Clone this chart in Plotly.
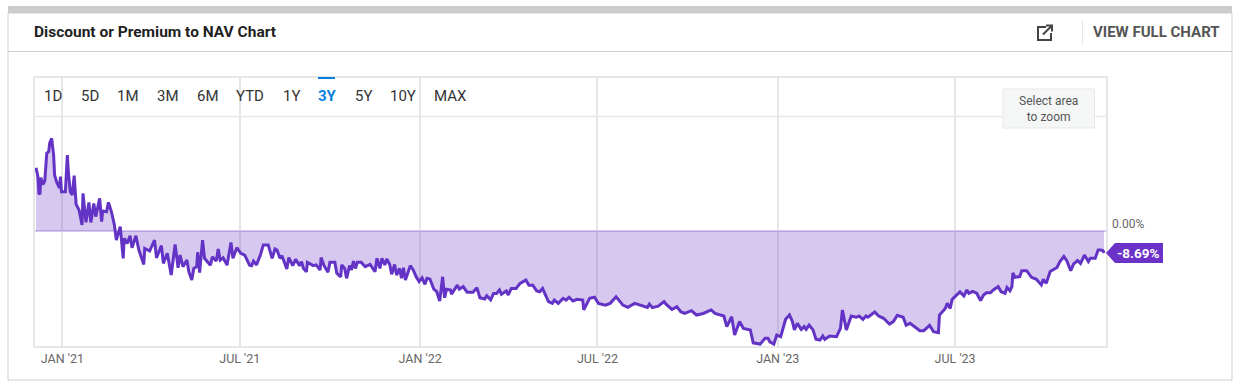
import pandas as pd
import plotly.graph_objects as go

W, H = 1240, 390
PL, PR, PT, PB = 35, 1106, 78, 346

title = "Discount or Premium to NAV Chart"
start_date = "2020-12-04"
end_day = 1093
tick_dates = ["2021-01-01", "2021-07-01", "2022-01-01", "2022-07-01", "2023-01-01", "2023-07-01"]
tick_labels = ["JAN '21", "JUL '21", "JAN '22", "JUL '22", "JAN '23", "JUL '23"]
tab_labels = ["1D", "5D", "1M", "3M", "6M", "YTD", "1Y", "3Y", "5Y", "10Y", "MAX"]
tab_centers = [53, 90, 128, 168, 208, 250, 291, 327, 363, 403, 450]
active_tab = "3Y"
last_label = "-8.69%"

days = [
    1, 3, 4, 5, 6, 8, 10, 12, 14, 15, 17, 19, 20, 22, 25, 26, 27, 31, 33, 34, 36, 38, 40, 42, 45, 48, 49, 52, 55, 57,
    60, 62, 66, 68, 69, 73, 75, 78, 81, 83, 87, 90, 91, 94, 97, 99, 103, 106, 111, 112, 117, 122, 124, 129, 131, 135,
    139, 143, 146, 148, 151, 155, 157, 160, 162, 165, 166, 168, 171, 173, 179, 181, 185, 187, 189, 192, 196, 200, 202,
    206, 210, 214, 219,
    221, 223, 226, 230, 233, 238, 242, 245, 247, 250, 252, 257, 259, 263, 266, 270, 272, 274, 277, 278, 284, 287, 291,
    292, 295, 299, 301, 306, 308, 312, 313, 316, 318, 321, 323, 325, 327, 329, 333, 337, 342, 347, 349, 352, 354, 357,
    359, 362, 364, 367, 369, 372, 374, 376, 378, 383, 386, 389, 392, 395, 398, 400, 403, 407, 410, 413, 416, 418, 420,
    424, 425, 431, 433, 437, 441, 447, 451, 454, 459, 461, 465, 468, 471, 474, 476, 481, 483, 486, 491, 495, 501, 504,
    508, 512, 515,
    518, 521, 524, 528, 530, 534, 539, 542, 545, 549, 553, 559, 560, 566, 571, 575, 582, 587, 593, 600, 605, 612, 619,
    625, 627, 630, 636, 642, 644, 650, 655, 659, 663, 670, 675, 682, 690, 694, 703, 706, 711, 714, 719, 723, 730, 733,
    740, 745, 748, 750, 754, 757, 761, 766, 770, 773, 775, 778, 782, 785, 787, 790, 794, 797, 801,
    804, 806, 811, 818, 822, 824, 828, 833, 838, 841, 845, 848, 850, 857, 861, 866, 872, 876, 880, 886, 889, 893, 903,
    907, 913, 917, 922, 923, 929, 931, 934, 936, 940, 944, 948, 951, 953, 957, 961, 965, 968, 971, 975, 978, 983, 986,
    990, 992, 995, 997, 998, 1000, 1005, 1007, 1012, 1017, 1022, 1027, 1029, 1032, 1036, 1039, 1043, 1046, 1050, 1053,
    1057, 1060, 1064, 1067, 1071, 1075, 1077, 1082, 1085, 1088, 1090, 1091,
]
values = [
    25.0, 21.5, 14.9, 14.5, 21.1, 18.4, 19.8, 30.7, 31.4, 34.7, 36.6, 30.0, 22.1, 19.5, 16.9, 21.5, 15.5, 15.5, 30.0, 23.5,
    15.5, 14.2, 21.9, 10.5, 8.3, 2.4, 14.9, 3.4, 11.3, 3.4,
    10.9, 5.7, 12.9, 3.7, 7.9, 7.6, 11.3, 7.6, 2.4, -3.6, 1.7, -10.8, -2.9, -4.9, -1.9, -6.6, -1.9, -7.5, -13.2, -6.9,
    -7.9, -3.6, -10.6, -5.8, -12.8, -8.8,
    -17.4, -5.3, -14.5, -9.5, -14.1, -11.5, -16.1, -19.4, -14.8, -14.1, -8.4, -16.4, -3.6, -10.8, -13.5, -10.2, -11.9,
    -7.1, -11.5, -10.6, -13.5, -4.5, -10.8,
    -6.6, -8.8, -9.5, -13.5,
    -13.7, -11.9, -13.4, -9.5, -5.5, -5.5, -10.8, -7.1, -7.5, -10.8, -9.8, -15.0, -10.5, -13.7, -11.2, -13.7, -12.1, -14.8,
    -16.1, -12.4, -13.7, -13.4, -15.4,
    -10.5, -13.7, -16.3, -12.4, -12.4, -16.7, -18.1, -13.4, -14.8, -18.7, -13.7, -15.4, -11.9, -14.8, -12.4, -12.4, -14.1,
    -13.2, -16.1, -10.8, -14.8, -10.8, -13.4,
    -11.1, -13.2, -17.1, -13.2, -17.4, -14.8, -18.7, -14.5, -19.4, -13.7, -15.4, -18.1, -20.0, -18.5, -21.1, -18.7, -19.0,
    -23.0, -24.0, -27.7, -18.1, -26.4, -23.0,
    -23.3, -25.0, -21.4, -23.0, -22.0, -24.2, -24.2, -22.4, -26.4, -26.9, -25.6, -27.2, -24.7, -24.7, -23.3, -25.0, -23.7,
    -25.3, -22.7, -22.7, -20.7, -19.4, -21.4,
    -21.4, -23.7, -24.0,
    -22.7, -25.3, -27.9, -28.6, -27.3, -28.6, -26.6, -27.3, -26.2, -27.7, -27.0, -27.3, -31.2, -26.6, -26.2, -28.6, -29.3,
    -28.6, -26.0, -29.3, -30.2, -28.6, -29.3,
    -30.2, -28.9, -30.3, -29.7, -27.9, -28.9, -31.0, -29.9, -31.9, -32.6, -31.5, -33.2, -32.6, -31.2, -32.6, -33.6, -37.8,
    -33.9, -41.1, -35.8, -38.5, -39.1, -44.2,
    -44.7, -42.4, -42.4, -43.8, -44.7, -41.1, -41.8, -34.9, -33.2, -35.8, -39.1, -36.5, -38.9, -37.8, -38.9, -37.2, -39.1,
    -42.8, -43.1,
    -41.5, -42.8, -41.5, -41.8, -38.5, -31.2, -39.1, -33.6, -34.1, -33.6, -34.9, -33.6, -34.1, -32.0, -33.6, -34.5, -36.8,
    -35.8, -33.3, -34.1, -37.2, -36.5, -39.4,
    -39.4, -37.3, -39.8, -40.2, -33.2, -30.6, -28.6, -30.6, -27.0, -25.7, -24.1, -25.7, -23.3, -24.6, -23.9, -24.6, -27.5,
    -25.3, -24.4, -24.4, -23.3, -22.0, -24.0,
    -24.6, -22.3, -23.6, -22.0, -16.5, -18.3, -18.0, -15.7, -15.7, -18.3, -19.1, -21.3, -19.1, -20.7, -16.0, -15.2, -14.4,
    -12.1, -10.1, -11.7,
    -15.7, -13.0, -11.7, -12.8, -9.5, -12.1, -10.8, -10.8, -7.5, -7.5, -7.8, -8.69,
]
assert len(days) == len(values), (len(days), len(values))

t0 = pd.Timestamp(start_date)
dates = [t0 + pd.Timedelta(days=d) for d in days]
x_range = [t0, t0 + pd.Timedelta(days=end_day)]
PX_PER_PCT = 2.53
y_range = [-(PB - 231) / PX_PER_PCT, (231 - PT) / PX_PER_PCT]


def px(x):
    return (x - PL) / (PR - PL)


def py(y):
    return (PB - y) / (PB - PT)


def rect(x0, y0, x1, y1, fill=None, line=None, lw=1):
    return dict(type="rect", xref="paper", yref="paper", x0=px(x0), x1=px(x1), y0=py(y0), y1=py(y1),
                fillcolor=fill or "rgba(0,0,0,0)", line=dict(color=line or "rgba(0,0,0,0)", width=lw if line else 0))


def seg(x0, y0, x1, y1, color, lw=1):
    return dict(type="line", xref="paper", yref="paper", x0=px(x0), x1=px(x1), y0=py(y0), y1=py(y1),
                line=dict(color=color, width=lw))


def poly(points, color=None, line=None, lw=1, closed=False):
    d = "M " + " L ".join(f"{px(a):.5f},{py(b):.5f}" for a, b in points) + (" Z" if closed else "")
    return dict(type="path", xref="paper", yref="paper", path=d, fillcolor=color or "rgba(0,0,0,0)",
                line=dict(color=line or "rgba(0,0,0,0)", width=lw))


def text(x, y, s, size=12, color="#333", family="Roboto", anchor="center", ay="middle"):
    return dict(xref="paper", yref="paper", x=px(x), y=py(y), text=s, showarrow=False, xanchor=anchor, yanchor=ay,
                align="center", font=dict(size=size, color=color, family=family))


NARROW = "Liberation Sans Narrow, Roboto"
shapes = [
    rect(8, 13, 1232, 380, line="#cfcfcf"),
    rect(8, 6, 1232, 13, fill="#cccccc"),
    seg(8, 51.5, 1232, 51.5, "#cfcfcf"),
    seg(1082.5, 20, 1082.5, 45, "#e6e6e6"),
    seg(PL, 116.5, PR, 116.5, "#e8e8e8", 1.5),
    rect(318, 77, 335, 79, fill="#0a7fe0"),
    rect(1003, 89, 1094.5, 128, fill="#f5f7f7", line="#e6e6e6"),
    poly([(1046, 27), (1038, 27), (1038, 40), (1051, 40), (1051, 33)], line="#444444", lw=2),
    seg(1043, 34.5, 1052, 25.5, "#444444", 2),
    poly([(1046, 25.5), (1052, 25.5), (1052, 31.5)], line="#444444", lw=2),
    poly([(1106, 253), (1115, 243), (1163, 243), (1163, 263), (1115, 263)], color="#6b32c8", closed=True),
]
annotations = [
    text(32, 32, f"<b>{title}</b>", size=15.5, color="#1f1f1f", family=NARROW, anchor="left"),
    text(1222, 32, "<b>VIEW FULL CHART</b>", size=15, color="#555555", family=NARROW, anchor="right"),
    text(1048.5, 108.5, "Select area<br>to zoom", size=12, color="#555555", family=NARROW),
    text(1110, 224, "0.00%", size=12, color="#666666", family="Roboto", anchor="left"),
    text(1138, 253, f"<b>{last_label}</b>", size=13.5, color="#ffffff", family=NARROW),
]
for label, cx in zip(tab_labels, tab_centers):
    on = label == active_tab
    annotations.append(text(cx, 95.5, f"<b>{label}</b>" if on else label, size=15,
                            color="#0a7fe0" if on else "#333333", family=NARROW))

fig = go.Figure(go.Scatter(
    x=dates, y=values, mode="lines", fill="tozeroy", fillcolor="rgba(107,50,200,0.27)",
    line=dict(color="#6333c6", width=3), hoverinfo="skip",
))
fig.update_layout(
    width=W, height=H, autosize=False, showlegend=False,
    margin=dict(l=PL, r=W - PR, t=PT, b=H - PB, pad=0),
    paper_bgcolor="white", plot_bgcolor="white",
    shapes=shapes, annotations=annotations,
    xaxis=dict(range=x_range, type="date", tickvals=tick_dates, ticktext=tick_labels, showgrid=True,
               gridcolor="#e6e6e6", gridwidth=1.5, zeroline=False, showline=True, linecolor="#e6e6e6", linewidth=1.5,
               mirror=True, ticks="", tickfont=dict(family=NARROW, size=12.5, color="#666666")),
    yaxis=dict(range=y_range, showticklabels=False, showgrid=False, zeroline=True, zerolinecolor="#d5caee",
               zerolinewidth=1.5, showline=True, linecolor="#e6e6e6", linewidth=1.5, mirror=True, ticks=""),
)
fig.write_html("out.html", config=dict(displayModeBar=False),
               post_script="document.body.style.margin='0';document.body.style.overflow='hidden';")
